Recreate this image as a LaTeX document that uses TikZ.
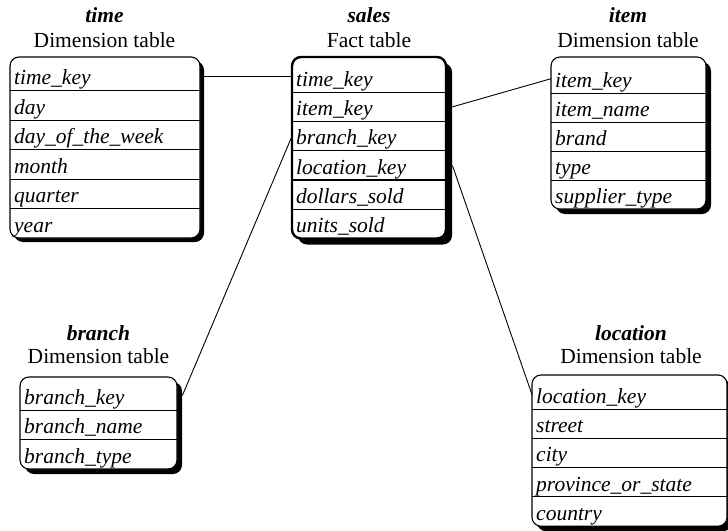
\documentclass[tikz,border=0pt]{standalone}
\usepackage{fontspec}
\setmainfont{Liberation Serif}
\tikzset{
  rowcell/.style={inner xsep=4pt, inner ysep=0pt, align=left, anchor=north west, font=\itshape},
  divider/.style={line width=0.9pt},
  tabframe/.style={line width=1.1pt},
  conn/.style={line width=0.9pt},
  ttitle/.style={anchor=base, font=\bfseries\itshape},
  tsub/.style={anchor=base},
}
% #1 prefix, #2 left x, #3 top y, #4 width, #5 first divider y, #6 row height, #7 bottom y, #8 shadow offset, #9 rows
\newcommand\dbtab[9]{%
  \pgfmathsetmacro\tabTW{#4-8}%
  \pgfmathsetmacro\tabTH{#6-12}%
  \fill[black, rounded corners=9pt] ({#2+#8},{#3+#8}) rectangle ({#2+#4+#8},{#7+#8});
  \draw[tabframe, fill=white, rounded corners=9pt] (#2,#3) rectangle ({#2+#4},#7);
  \foreach \txt [count=\i] in {#9} {
    \node[rowcell, minimum width=#4pt, text width=\tabTW pt, minimum height=#6pt,
          text height=\tabTH pt, text depth=0pt] (#1\i) at (#2,{#5+(\i-2)*#6}) {\txt};
    \ifnum\i>1 \draw[divider] (#1\i.north west) -- (#1\i.north east); \fi
  }
}
\begin{document}
\begin{tikzpicture}[x=1pt, y=-1pt]
\fontsize{21.5}{25}\selectfont
\clip (0,0) rectangle (728,530);
\fill[white] (0,0) rectangle (728,530);

% time
\node[ttitle] (timeT) at (104.5,23) {time};
\node[tsub] (timeD) at (104.5,47) {Dimension table};
\dbtab{t}{10}{57}{190}{90.5}{29.5}{238}{4}{time\_key,day,day\_of\_the\_week,month,quarter,year}

% sales
\node[ttitle] (salesT) at (369,23) {sales};
\node[tsub] (salesD) at (369,47) {Fact table};
\begin{scope}[tabframe/.style={line width=2.4pt}]
\dbtab{s}{292}{57}{154}{92}{29.3}{238.5}{6}{time\_key,item\_key,branch\_key,location\_key,dollars\_sold,units\_sold}
\end{scope}
\draw[line width=1.8pt] (s5.north west) -- (s5.north east);

% item
\node[ttitle] (itemT) at (628,23) {item};
\node[tsub] (itemD) at (628,47) {Dimension table};
\dbtab{i}{551}{57}{155}{93}{29}{209}{5}{item\_key,item\_name,brand,type,supplier\_type}

% branch
\node[ttitle] (branchT) at (98.5,340) {branch};
\node[tsub] (branchD) at (98.5,363) {Dimension table};
\dbtab{b}{20}{377}{157}{410}{29.5}{469}{5}{branch\_key,branch\_name,branch\_type}

% location
\node[ttitle] (locT) at (631,340) {location};
\node[tsub] (locD) at (631,363) {Dimension table};
\dbtab{l}{532}{375}{195}{409}{29.3}{526.2}{5}{location\_key,street,city,province\_or\_state,country}

% connectors
\draw[conn] ([xshift=4pt]t1.east) -- (t1.east -| s1.west);
\draw[conn] ([xshift=6pt]s2.east) -- (i1.west);
\draw[conn] (s3.west) -- ([xshift=5pt]b1.east);
\draw[conn] ([xshift=6pt]s4.east) -- (l1.west);
\end{tikzpicture}
\end{document}
